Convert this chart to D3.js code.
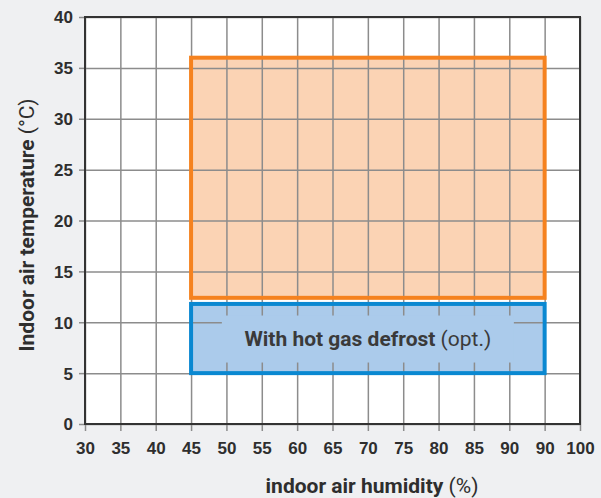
<!DOCTYPE html>
<html>
<head>
<meta charset="utf-8">
<script src="https://cdn.jsdelivr.net/npm/d3@7"></script>
<style>
  body { margin: 0; background: #eff0f2; }
  svg { display: block; font-family: "Liberation Sans Narrow", "Roboto", "Liberation Sans", sans-serif; }
</style>
</head>
<body>
<svg id="chart"></svg>
<script>
var w = 601, h = 498;
var margin = {top: 17, right: 21, bottom: 74, left: 85};

// data
var xTicks = [30, 35, 40, 45, 50, 55, 60, 65, 70, 75, 80, 85, 90, 95, 100];
var xTickLabels = ["30", "35", "40", "45", "50", "55", "60", "65", "70", "75", "80", "85", "90", "90", "100"];
var yTicks = [0, 5, 10, 15, 20, 25, 30, 35, 40];
var zoneNames = ["standard", "hot gas defrost"];
var zoneHumidity = [[45, 95], [45, 95]];
var zoneTemp = [[12.4, 36], [5, 11.8]];

var fill_col = ["#fbd3b4", "#abcbeb"];
var stroke_col = ["#f5821f", "#0a88d1"];
var grid_col = "#8c8c8c";
var text_col = "#2e2e2e";

var svg = d3.select("#chart").attr("width", w).attr("height", h);

var x = d3.scaleLinear().domain([30, 100]).range([margin.left, w - margin.right]);
var y = d3.scaleLinear().domain([0, 40]).range([h - margin.bottom, margin.top]);

// plot background
svg.append("rect")
   .attr("x", x(30)).attr("y", y(40))
   .attr("width", x(100) - x(30)).attr("height", y(0) - y(40))
   .attr("fill", "white");

// zone fills
svg.selectAll(".zonefill").data(zoneNames).enter().append("rect")
   .attr("class", "zonefill")
   .attr("x", function(d, i){ return x(zoneHumidity[i][0]); })
   .attr("y", function(d, i){ return y(zoneTemp[i][1]); })
   .attr("width", function(d, i){ return x(zoneHumidity[i][1]) - x(zoneHumidity[i][0]); })
   .attr("height", function(d, i){ return y(zoneTemp[i][0]) - y(zoneTemp[i][1]); })
   .attr("fill", function(d, i){ return fill_col[i]; });

// grid + axes
var xAxis = svg.append("g").attr("transform", "translate(0," + y(0) + ")")
   .call(d3.axisBottom(x).tickValues(xTicks)
        .tickSize(-(y(0) - y(40)))
        .tickFormat(function(d, i){ return xTickLabels[i]; }));
var yAxis = svg.append("g").attr("transform", "translate(" + x(30) + ",0)")
   .call(d3.axisLeft(y).tickValues(yTicks).tickSize(-(x(100) - x(30))));

[xAxis, yAxis].forEach(function(ax){
	ax.select(".domain").remove();
	ax.selectAll(".tick line").attr("stroke", grid_col).attr("stroke-width", 1.5);
	ax.selectAll(".tick text").attr("fill", text_col)
	  .style("font-size", "17px").style("font-weight", "bold");
});
// little outer tick marks
xAxis.selectAll(".tick").append("line").attr("y1", 0).attr("y2", 7)
     .attr("stroke", grid_col).attr("stroke-width", 1.5);
yAxis.selectAll(".tick").append("line").attr("x1", 0).attr("x2", -6)
     .attr("stroke", grid_col).attr("stroke-width", 1.5);
xAxis.selectAll(".tick text").attr("y", 18);
yAxis.selectAll(".tick text").attr("x", -12).attr("dy", "0.35em");

// frame
svg.append("rect")
   .attr("x", x(30)).attr("y", y(40))
   .attr("width", x(100) - x(30)).attr("height", y(0) - y(40))
   .attr("fill", "none").attr("stroke", "#333").attr("stroke-width", 2);

// label backing inside blue zone (hides the grid)
var lab_cx = (x(zoneHumidity[1][0]) + x(zoneHumidity[1][1])) / 2;
var lab_cy = (y(zoneTemp[1][0]) + y(zoneTemp[1][1])) / 2;
svg.append("rect")
   .attr("x", lab_cx - 146).attr("y", lab_cy - 23)
   .attr("width", 292).attr("height", 47)
   .attr("fill", fill_col[1]);

// zone borders
svg.selectAll(".zoneline").data(zoneNames).enter().append("rect")
   .attr("class", "zoneline")
   .attr("x", function(d, i){ return x(zoneHumidity[i][0]); })
   .attr("y", function(d, i){ return y(zoneTemp[i][1]); })
   .attr("width", function(d, i){ return x(zoneHumidity[i][1]) - x(zoneHumidity[i][0]); })
   .attr("height", function(d, i){ return y(zoneTemp[i][0]) - y(zoneTemp[i][1]); })
   .attr("fill", "none")
   .attr("stroke", function(d, i){ return stroke_col[i]; })
   .attr("stroke-width", 4);

var lab = svg.append("text")
   .attr("x", lab_cx).attr("y", lab_cy).attr("dy", "0.35em")
   .attr("text-anchor", "middle").attr("fill", "#3a3a3a")
   .style("font-size", "21px");
lab.append("tspan").style("font-weight", "bold").text("With hot gas defrost");
lab.append("tspan").text(" (opt.)");

// axis titles
var xt = svg.append("text")
   .attr("x", 372).attr("y", 493)
   .attr("text-anchor", "middle").attr("fill", text_col)
   .style("font-size", "21px");
xt.append("tspan").style("font-weight", "bold").text("indoor air humidity");
xt.append("tspan").text(" (%)");

var yt = svg.append("text")
   .attr("transform", "translate(34," + 225 + ") rotate(-90)")
   .attr("text-anchor", "middle").attr("fill", text_col)
   .style("font-size", "21px");
yt.append("tspan").style("font-weight", "bold").text("Indoor air temperature");
yt.append("tspan").text(" (°C)");
</script>
</body>
</html>
